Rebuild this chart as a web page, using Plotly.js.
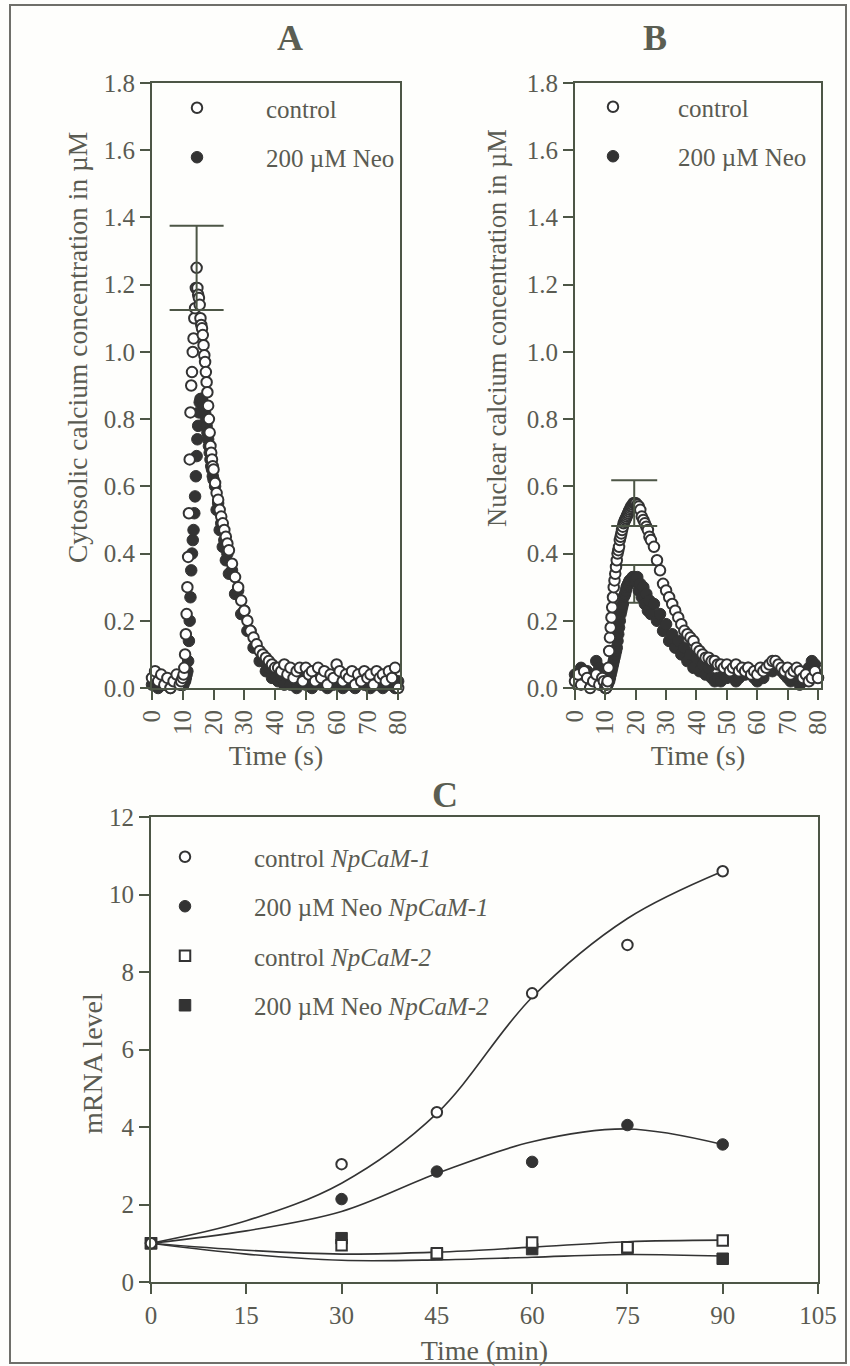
<!DOCTYPE html>
<html><head><meta charset="utf-8">
<script src="https://cdn.plot.ly/plotly-3.0.1.min.js"></script>
<style>html,body{margin:0;padding:0;background:#fff}#chart{width:850px;height:1366px}</style>
</head><body><div id="chart"></div>
<script>
// ---------- Panel A / B : time (s) ----------
const timeS = [0,1,2,3,4,5,6,7,8,9,9.5,10,
  10.25,10.5,10.75,11,11.25,11.5,11.75,12,12.25,12.5,
  12.75,13,13.25,13.5,13.75,14,14.25,14.5,14.75,15,
  15.25,15.5,15.75,16,16.25,16.5,16.75,17,17.25,17.5,
  17.75,18,18.25,18.5,18.75,19,19.25,19.5,19.75,20,
  20.5,21,21.5,22,22.5,23,23.5,24,24.5,25,
  26,27,28,29,30,31,32,33,34,35,
  36,37,38,39,40,41,42,43,44,45,
  46,47,48,49,50,51,52,53,54,55,
  56,57,58,59,60,61,62,63,64,65,
  66,67,68,69,70,71,72,73,74,75,
  76,77,78,79,80];

// Cytosolic calcium (µM), control
const cytoControl = [0.03,0.05,0.02,0.04,0.01,0.03,0.00,0.02,0.04,0.01,0.02,0.03,
  0.04,0.06,0.10,0.16,0.22,0.30,0.39,0.52,0.68,0.82,
  0.90,0.94,1.00,1.04,1.10,1.13,1.19,1.25,1.19,1.17,
  1.16,1.14,1.10,1.08,1.07,1.05,1.02,0.99,0.97,0.94,
  0.91,0.88,0.84,0.80,0.76,0.72,0.70,0.68,0.66,0.65,
  0.61,0.58,0.56,0.53,0.51,0.49,0.47,0.45,0.43,0.41,
  0.37,0.33,0.30,0.26,0.23,0.20,0.17,0.15,0.13,0.11,
  0.10,0.09,0.08,0.07,0.06,0.06,0.05,0.07,0.04,0.06,
  0.03,0.05,0.06,0.02,0.06,0.04,0.05,0.02,0.06,0.03,
  0.05,0.01,0.04,0.03,0.07,0.05,0.02,0.04,0.03,0.05,
  0.01,0.04,0.02,0.05,0.03,0.04,0.01,0.05,0.03,0.04,
  0.02,0.05,0.03,0.06,0.00];

// Cytosolic calcium (µM), 200 µM Neo
const cytoNeo = [0.01,0.02,0.00,0.03,0.01,0.02,0.00,0.01,0.03,0.02,0.01,0.01,
  0.01,0.02,0.02,0.03,0.04,0.05,0.08,0.14,0.20,0.27,
  0.35,0.40,0.44,0.47,0.52,0.57,0.63,0.69,0.74,0.78,
  0.82,0.85,0.86,0.86,0.86,0.85,0.84,0.83,0.82,0.80,
  0.78,0.76,0.74,0.72,0.70,0.68,0.66,0.65,0.63,0.62,
  0.60,0.53,0.55,0.47,0.49,0.42,0.44,0.38,0.40,0.34,
  0.35,0.28,0.29,0.22,0.23,0.17,0.17,0.12,0.12,0.08,
  0.08,0.05,0.06,0.03,0.04,0.02,0.03,0.01,0.04,0.01,
  0.03,0.00,0.02,0.04,0.01,0.03,0.00,0.02,0.04,0.01,
  0.02,0.00,0.03,0.01,0.02,0.04,0.00,0.02,0.01,0.03,
  0.00,0.02,0.04,0.01,0.03,0.00,0.02,0.01,0.03,0.00,
  0.02,0.01,0.03,0.00,0.02];

// Nuclear calcium (µM), control
const nucControl = [0.02,0.04,0.01,0.05,0.03,0.00,0.02,0.04,0.01,0.03,0.02,0.00,
  0.00,0.01,0.02,0.06,0.11,0.15,0.18,0.21,0.24,0.27,
  0.30,0.32,0.34,0.36,0.38,0.40,0.41,0.42,0.44,0.45,
  0.46,0.47,0.48,0.49,0.495,0.50,0.505,0.51,0.515,0.52,
  0.525,0.53,0.535,0.54,0.54,0.545,0.55,0.55,0.55,0.55,
  0.545,0.54,0.53,0.51,0.50,0.49,0.48,0.47,0.45,0.44,
  0.42,0.38,0.35,0.31,0.29,0.27,0.25,0.23,0.21,0.19,
  0.17,0.16,0.15,0.14,0.12,0.11,0.10,0.09,0.09,0.08,
  0.08,0.07,0.07,0.06,0.07,0.05,0.06,0.07,0.05,0.06,
  0.05,0.06,0.04,0.05,0.04,0.06,0.05,0.06,0.07,0.08,
  0.08,0.07,0.06,0.05,0.06,0.04,0.05,0.06,0.05,0.03,
  0.04,0.02,0.03,0.05,0.03];

// Nuclear calcium (µM), 200 µM Neo
const nucNeo = [0.04,0.02,0.06,0.03,0.05,0.01,0.04,0.08,0.06,0.03,0.02,0.01,
  0.00,0.01,0.01,0.02,0.02,0.03,0.04,0.05,0.06,0.07,
  0.08,0.09,0.10,0.11,0.12,0.14,0.16,0.18,0.20,0.22,
  0.23,0.24,0.25,0.27,0.275,0.28,0.29,0.30,0.305,0.31,
  0.315,0.32,0.32,0.32,0.325,0.33,0.33,0.32,0.32,0.32,
  0.33,0.29,0.31,0.27,0.30,0.25,0.28,0.23,0.26,0.22,
  0.25,0.20,0.22,0.17,0.19,0.14,0.16,0.12,0.14,0.10,
  0.12,0.08,0.10,0.06,0.09,0.05,0.07,0.04,0.06,0.03,
  0.02,0.03,0.02,0.04,0.03,0.05,0.04,0.02,0.03,0.05,
  0.04,0.06,0.05,0.03,0.02,0.04,0.03,0.05,0.06,0.05,
  0.07,0.06,0.05,0.04,0.03,0.02,0.04,0.03,0.01,0.02,
  0.04,0.06,0.08,0.07,0.03];

// Peak mean ± error bars
const cytoPeakTime = [14.5], cytoPeakMean = [1.25], cytoPeakErr = [0.125];
const nucCtrlPeakTime = [19.5], nucCtrlPeakMean = [0.55], nucCtrlPeakErr = [0.068];
const nucNeoPeakTime = [19.5], nucNeoPeakMean = [0.31], nucNeoPeakErr = [0.056];

// ---------- Panel C : time (min) ----------
const timeMin = [0, 30, 45, 60, 75, 90];
const ctrlCaM1 = [1.0, 3.04, 4.38, 7.45, 8.7, 10.6];
const neoCaM1  = [1.0, 2.14, 2.85, 3.10, 4.05, 3.55];
const ctrlCaM2 = [1.0, 0.95, 0.74, 1.02, 0.90, 1.07];
const neoCaM2  = [1.0, 1.13, 0.72, 0.85, 0.88, 0.60];
// fitted curves
const fitTime = [0, 15, 30, 45, 60, 75, 90];
const fitCtrl1 = [1.0, 1.58, 2.55, 4.35, 7.35, 9.38, 10.6];
const fitNeo1  = [1.0, 1.32, 1.82, 2.80, 3.62, 3.95, 3.55];
const fitCtrl2 = [1.0, 0.82, 0.72, 0.77, 0.90, 1.04, 1.08];
const fitNeo2  = [1.0, 0.72, 0.56, 0.57, 0.64, 0.71, 0.67];

const tickS = [0,10,20,30,40,50,60,70,80];
const tickMin = [0,15,30,45,60,75,90,105];
const tickConc = [0,0.2,0.4,0.6,0.8,1.0,1.2,1.4,1.6,1.8];
const tickMRNA = [0,2,4,6,8,10,12];

// ---------- styling ----------
const W = 850, H = 1366;
const px = v => v / W, py = v => 1 - v / H;
const FONT = 'Liberation Serif, Times New Roman, serif';
const TXT = '#5a5b52', LINE = '#4d5646', MARK = '#333333';

const openCircle = {symbol:'circle', size:10.5, color:'#ffffff', line:{color:MARK, width:2}};
const fillCircle = {symbol:'circle', size:11.5, color:MARK, line:{color:MARK, width:1}};
const openSquare = {symbol:'square', size:10.5, color:'#ffffff', line:{color:MARK, width:2}};
const fillSquare = {symbol:'square', size:11.5, color:MARK, line:{color:MARK, width:1}};

function axis(extra){
  return Object.assign({showline:true, mirror:true, linecolor:LINE, linewidth:2,
    ticks:'outside', ticklen:10, tickwidth:2, tickcolor:LINE,
    showgrid:false, zeroline:false, automargin:false, fixedrange:true,
    tickfont:{family:FONT, size:25, color:TXT}}, extra);
}
const titleFont = {family:FONT, size:28, color:TXT};
const errStyle = {type:'data', visible:true, color:LINE, thickness:2};
const hidden = {size:1, color:'rgba(0,0,0,0)'};

const traces = [
  // Panel A
  {x:timeS, y:cytoNeo, name:'200 µM Neo', mode:'markers', marker:fillCircle, xaxis:'x', yaxis:'y',
   legend:'legend', legendgroup:'a2', legendrank:2, cliponaxis:false},
  {x:timeS, y:cytoControl, name:'control', mode:'markers', marker:openCircle, xaxis:'x', yaxis:'y',
   legend:'legend', legendgroup:'a1', legendrank:1, cliponaxis:false},
  {x:cytoPeakTime, y:cytoPeakMean, mode:'markers', marker:hidden,
   error_y:Object.assign({array:cytoPeakErr, width:27}, errStyle), xaxis:'x', yaxis:'y', showlegend:false, cliponaxis:false},
  // Panel B
  {x:nucNeoPeakTime, y:nucNeoPeakMean, mode:'markers', marker:hidden,
   error_y:Object.assign({array:nucNeoPeakErr, width:24}, errStyle), xaxis:'x2', yaxis:'y2', showlegend:false, cliponaxis:false},
  {x:timeS, y:nucNeo, name:'200 µM Neo', mode:'markers', marker:fillCircle, xaxis:'x2', yaxis:'y2',
   legend:'legend2', legendgroup:'b2', legendrank:2, cliponaxis:false},
  {x:timeS, y:nucControl, name:'control', mode:'markers', marker:openCircle, xaxis:'x2', yaxis:'y2',
   legend:'legend2', legendgroup:'b1', legendrank:1, cliponaxis:false},
  {x:nucCtrlPeakTime, y:nucCtrlPeakMean, mode:'markers', marker:hidden,
   error_y:Object.assign({array:nucCtrlPeakErr, width:23}, errStyle), xaxis:'x2', yaxis:'y2', showlegend:false, cliponaxis:false},
  // Panel C curves
  {x:fitTime, y:fitCtrl1, mode:'lines', line:{shape:'spline', color:MARK, width:1.6}, xaxis:'x3', yaxis:'y3', showlegend:false},
  {x:fitTime, y:fitNeo1, mode:'lines', line:{shape:'spline', color:MARK, width:1.6}, xaxis:'x3', yaxis:'y3', showlegend:false},
  {x:fitTime, y:fitCtrl2, mode:'lines', line:{shape:'spline', color:MARK, width:1.6}, xaxis:'x3', yaxis:'y3', showlegend:false},
  {x:fitTime, y:fitNeo2, mode:'lines', line:{shape:'spline', color:MARK, width:1.6}, xaxis:'x3', yaxis:'y3', showlegend:false},
  // Panel C points
  {x:timeMin, y:neoCaM2, name:'200 µM Neo <i>NpCaM-2</i>', mode:'markers', marker:fillSquare, xaxis:'x3', yaxis:'y3',
   legend:'legend3', legendgroup:'c4', legendrank:4, cliponaxis:false},
  {x:timeMin, y:ctrlCaM2, name:'control <i>NpCaM-2</i>', mode:'markers', marker:openSquare, xaxis:'x3', yaxis:'y3',
   legend:'legend3', legendgroup:'c3', legendrank:3, cliponaxis:false},
  {x:timeMin, y:neoCaM1, name:'200 µM Neo <i>NpCaM-1</i>', mode:'markers', marker:fillCircle, xaxis:'x3', yaxis:'y3',
   legend:'legend3', legendgroup:'c2', legendrank:2, cliponaxis:false},
  {x:timeMin, y:ctrlCaM1, name:'control <i>NpCaM-1</i>', mode:'markers', marker:openCircle, xaxis:'x3', yaxis:'y3',
   legend:'legend3', legendgroup:'c1', legendrank:1, cliponaxis:false}
];

function legendAt(xLeft, yTop, iw){
  return {x:px(xLeft), y:py(yTop), xanchor:'left', yanchor:'top', itemwidth:iw,
    bgcolor:'rgba(0,0,0,0)', borderwidth:0, traceorder:'grouped', tracegroupgap:14,
    font:{family:FONT, size:25, color:TXT}};
}
function label(text, x, y, size, angle){
  return {text:text, x:px(x), y:py(y), xref:'paper', yref:'paper', xanchor:'center', yanchor:'middle',
    textangle:angle || 0, showarrow:false, font:{family:FONT, size:size, color:TXT}};
}

const layout = {
  width:W, height:H, margin:{l:0, r:0, t:0, b:0},
  paper_bgcolor:'#fefefc', plot_bgcolor:'rgba(0,0,0,0)',
  showlegend:true, hovermode:false,
  xaxis: axis({domain:[px(152), px(400)], range:[0, 80.6], tickvals:tickS, tickangle:-90, anchor:'y',
    title:{text:'Time (s)', font:titleFont, standoff:11}}),
  yaxis: axis({domain:[py(688), py(83)], range:[0, 1.8], tickvals:tickConc, tickformat:'.1f', anchor:'x'}),
  xaxis2: axis({domain:[px(575), px(821)], range:[0, 81], tickvals:tickS, tickangle:-90, anchor:'y2',
    title:{text:'Time (s)', font:titleFont, standoff:11}}),
  yaxis2: axis({domain:[py(688), py(83)], range:[0, 1.8], tickvals:tickConc, tickformat:'.1f', anchor:'x2'}),
  xaxis3: axis({domain:[px(151), px(818)], range:[0, 105], tickvals:tickMin, anchor:'y3',
    title:{text:'Time (min)', font:titleFont, standoff:13}}),
  yaxis3: axis({domain:[py(1282), py(817)], range:[0, 12], tickvals:tickMRNA, anchor:'x3'}),
  legend: legendAt(128, 85, 128),
  legend2: legendAt(548, 84, 120),
  legend3: legendAt(116, 834, 128),
  annotations: [
    Object.assign(label('<b>A</b>', 290, 38, 36), {font:{family:FONT, size:36, color:'#5b5e52'}}),
    Object.assign(label('<b>B</b>', 655, 38, 36), {font:{family:FONT, size:36, color:'#5b5e52'}}),
    Object.assign(label('<b>C</b>', 445, 795, 36), {font:{family:FONT, size:36, color:'#5b5e52'}}),
    label('Cytosolic calcium concentration in µM', 78, 348, 27.5, -90),
    label('Nuclear calcium concentration in µM', 497, 328, 26.5, -90),
    label('mRNA level', 92, 1064, 28, -90)
  ],
  shapes: [
    {type:'rect', xref:'paper', yref:'paper', x0:px(10), x1:px(846), y0:py(1363), y1:py(5),
     line:{color:'#6f6f6a', width:2}, layer:'below'}
  ]
};

Plotly.newPlot('chart', traces, layout, {displayModeBar:false, staticPlot:true});
</script></body></html>
